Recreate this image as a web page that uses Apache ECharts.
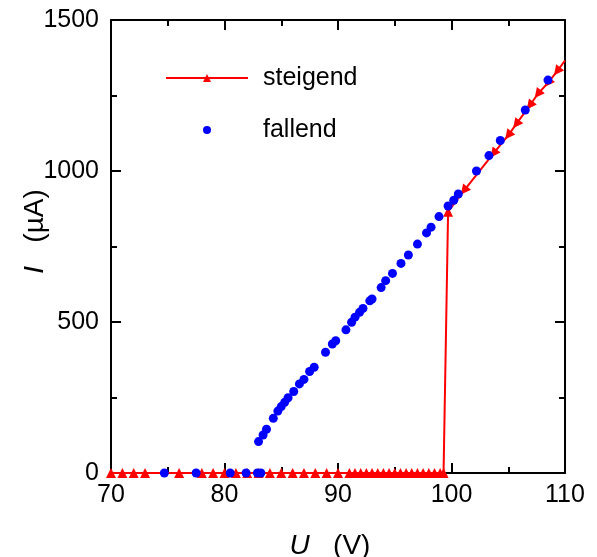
<!DOCTYPE html>
<html>
<head>
<meta charset="utf-8">
<script src="https://cdn.jsdelivr.net/npm/echarts@6/dist/echarts.min.js"></script>
<style>
  html, body { margin: 0; padding: 0; background: #fff; }
  #chart { width: 597px; height: 557px; }
</style>
</head>
<body>
<div id="chart"></div>
<script>
// steigend (rising voltage): U in V, I in µA
const risingU = [70, 71, 72, 73, 76, 78, 79, 80, 81, 82, 83, 84, 85, 86, 87, 88, 89, 90, 91,
  91.5, 92, 92.5, 93, 93.5, 94, 94.5, 95, 95.5, 96, 96.5, 97, 97.5, 98, 98.5, 99, 99.3,
  99.7, 101.1, 103.7, 105.0, 105.7, 106.9, 107.6, 108.5, 109.3, 110]
const risingI = [0, 0, 0, 0, 0, 0, 0, 0, 0, 0, 0, 0, 0, 0, 0, 0, 0, 0, 0,
  0, 0, 0, 0, 0, 0, 0, 0, 0, 0, 0, 0, 0, 0, 0, 0, 0,
  865, 935, 1058, 1118, 1155, 1217, 1255, 1292, 1330, 1366]

// fallend (falling voltage)
const fallingU = [108.5, 106.5, 104.3, 103.3, 102.2, 100.6, 100.2, 99.7, 98.9, 98.2, 97.8, 97.0,
  96.2, 95.55, 94.8, 94.2, 93.8, 93.0, 92.8, 92.2, 91.9, 91.5, 91.2, 90.7, 89.8, 89.5, 88.9,
  87.9, 87.5, 87.0, 86.6, 86.1, 85.6, 85.3, 85.0, 84.7, 84.3, 83.7, 83.4, 83.0,
  83.2, 82.9, 81.9, 80.5, 77.5, 74.7]
const fallingI = [1301, 1202, 1101, 1051, 1000, 924, 903, 884, 849, 814, 795, 758,
  722, 694, 661, 637, 614, 576, 570, 545, 532, 516, 499, 474, 438, 427, 400,
  350, 336, 310, 295, 270, 249, 234, 220, 205, 181, 145, 126, 104,
  0, 0, 0, 0, 0, 0]

const xTicks = { min: 70, max: 110, interval: 10 }
const yTicks = { min: 0, max: 1500, interval: 500 }

const fontFamily = "'Liberation Sans', Arial, Helvetica, sans-serif"

let myChart = echarts.init(document.getElementById('chart'))

let risingData = []
for (let i = 0; i < risingU.length; i++) {
    let item = { value: [risingU[i], risingI[i]] }
    // markers on the upper branch sit rotated along the line
    if (risingI[i] > 0 && risingU[i] > 100) item.symbolRotate = 142
    if (i === risingU.length - 1) item.symbol = 'none'
    risingData.push(item)
}
let fallingData = []
for (let i = 0; i < fallingU.length; i++) {
    fallingData.push([fallingU[i], fallingI[i]])
}

let frameAxis = {
    axisLine: { show: true, onZero: false, lineStyle: { color: '#000', width: 2 } },
    axisTick: { show: true, inside: true, length: 10, lineStyle: { color: '#000', width: 2 } },
    minorTick: { show: true, splitNumber: 2, length: 6, lineStyle: { color: '#000', width: 2 } },
    splitLine: { show: false }
}
let plainNumber = function(v) { return String(v) }
let nameRich = { i: { fontSize: 28, fontStyle: 'italic', color: '#000', fontFamily: fontFamily } }

let option = {
    animation: false,
    textStyle: { fontFamily: fontFamily },
    grid: { left: 111, right: 32, top: 20, bottom: 84, containLabel: false, outerBoundsMode: 'none' },
    legend: {
        orient: 'vertical',
        left: 160,
        top: 60,
        itemWidth: 82,
        itemHeight: 10,
        itemGap: 26,
        textStyle: { fontSize: 25, color: '#000', lineHeight: 26, padding: [0, 0, 0, 10], fontFamily: fontFamily },
        data: ['steigend', 'fallend']
    },
    xAxis: [
        Object.assign({}, frameAxis, {
            type: 'value', position: 'bottom',
            min: xTicks.min, max: xTicks.max, interval: xTicks.interval,
            name: '{i|U}   (V)',
            nameLocation: 'middle',
            nameGap: 59,
            nameMoveOverlap: false,
            nameTextStyle: { fontSize: 28, color: '#000', fontFamily: fontFamily, rich: nameRich, padding: [0, 16, 0, 0] },
            axisLabel: { show: true, fontSize: 25, color: '#000', margin: 10, fontFamily: fontFamily, formatter: plainNumber }
        }),
        Object.assign({}, frameAxis, {
            type: 'value', position: 'top',
            min: xTicks.min, max: xTicks.max, interval: xTicks.interval,
            axisLabel: { show: false }
        })
    ],
    yAxis: [
        Object.assign({}, frameAxis, {
            type: 'value', position: 'left',
            min: yTicks.min, max: yTicks.max, interval: yTicks.interval,
            name: '{i|I}   (µA)',
            nameLocation: 'middle',
            nameGap: 62,
            nameMoveOverlap: false,
            nameTextStyle: { fontSize: 28, color: '#000', fontFamily: fontFamily, rich: nameRich, padding: [0, 0, 0, 30] },
            axisLabel: { show: true, fontSize: 25, color: '#000', margin: 12, fontFamily: fontFamily, formatter: plainNumber }
        }),
        Object.assign({}, frameAxis, {
            type: 'value', position: 'right',
            min: yTicks.min, max: yTicks.max, interval: yTicks.interval,
            axisLabel: { show: false }
        })
    ],
    series: [
        {
            name: 'steigend',
            type: 'line',
            xAxisIndex: 0, yAxisIndex: 0,
            symbol: 'triangle',
            symbolSize: 10,
            showAllSymbol: true,
            color: '#ff0000',
            lineStyle: { color: '#ff0000', width: 2 },
            itemStyle: { color: '#ff0000' },
            data: risingData
        },
        {
            name: 'fallend',
            type: 'line',
            xAxisIndex: 0, yAxisIndex: 0,
            symbol: 'circle',
            symbolSize: 9,
            showAllSymbol: true,
            color: '#0000ff',
            lineStyle: { opacity: 0, width: 0 },
            itemStyle: { color: '#0000ff' },
            data: fallingData
        }
    ]
}
myChart.setOption(option)
window.addEventListener('resize', function() {
    myChart.resize()
})
</script>
</body>
</html>
